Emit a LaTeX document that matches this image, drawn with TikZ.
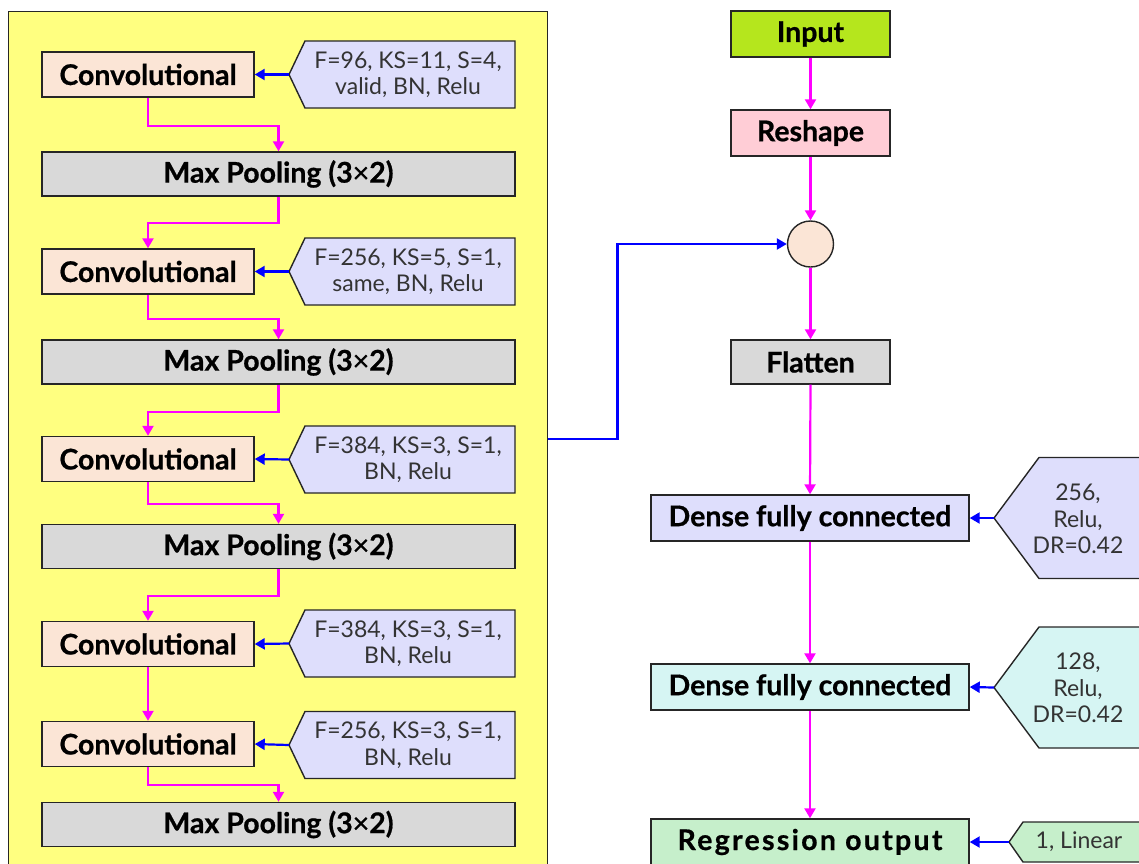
\documentclass[tikz,border=0pt]{standalone}
\usepackage{fontspec}
\setmainfont{Lato}
\usetikzlibrary{arrows.meta}

\definecolor{edge}{HTML}{262626}
\definecolor{cnnbg}{HTML}{FFFF80}
\definecolor{convfill}{HTML}{FBE5D6}
\definecolor{poolfill}{HTML}{D9D9D9}
\definecolor{parfill}{HTML}{DEDEFC}
\definecolor{cyanfill}{HTML}{D6F5F3}
\definecolor{greenfill}{HTML}{C6EFCB}
\definecolor{inputfill}{HTML}{B5E61D}
\definecolor{reshapefill}{HTML}{FFCDD6}
\definecolor{flow}{HTML}{FF00FF}
\definecolor{side}{HTML}{0000FF}

% light multiplication sign inside bold labels
\newcommand\bytimes{{\mdseries×}}

\newcommand\leftparam[3]{%
  \filldraw[parshape] (305,#2-33.5) -- (515,#2-33.5) -- (515,#2+33.5)
    -- (305,#2+33.5) -- (289,#2) -- cycle;
  \coordinate (#1) at (289,#2);
  \node[ptext] (#1text) at (408,#2) {#3};}

\begin{document}
\begin{tikzpicture}[x=1pt,y=-1pt,
  block/.style={draw=edge, line width=1.4pt, inner sep=0pt,
    font=\bfseries\addfontfeature{FakeBold=0.7}\fontsize{28.5}{32}\selectfont},
  convbox/.style={block, fill=convfill, minimum width=212pt, minimum height=45pt},
  poolbox/.style={block, fill=poolfill, minimum width=473pt, minimum height=44pt},
  colbox/.style={block, minimum width=159pt, minimum height=46pt},
  densebox/.style={block, minimum width=318pt, minimum height=46pt},
  parshape/.style={draw=edge, line width=1.4pt, fill=parfill},
  ptext/.style={align=center, inner sep=0pt, text=black!80,
    font=\fontsize{23}{26.5}\selectfont},
  flowline/.style={draw=flow, line width=2.2pt, -{Triangle[length=10pt,width=11pt]}},
  sideline/.style={draw=side, line width=2.2pt, -{Triangle[length=10pt,width=11pt]}}]

\useasboundingbox (0,0) rectangle (1139,863);
\begin{scope}
\clip (0,0) rectangle (1139,863);

% feature extractor panel
\node[draw=edge, line width=1.4pt, fill=cnnbg, minimum width=539pt,
  minimum height=854pt, anchor=north west, inner sep=0pt] (cnn) at (8,11) {};

% convolution / pooling stack
\node[convbox] (c1) at (148,74.5) {Convolutional};
\node[poolbox] (mp1) at (278.5,174) {Max Pooling (3\bytimes2)};
\node[convbox] (c2) at (148,271.5) {Convolutional};
\node[poolbox] (mp2) at (278.5,362) {Max Pooling (3\bytimes2)};
\node[convbox] (c3) at (148,459) {Convolutional};
\node[poolbox] (mp3) at (278.5,546.5) {Max Pooling (3\bytimes2)};
\node[convbox] (c4) at (148,644) {Convolutional};
\node[convbox] (c5) at (148,744) {Convolutional};
\node[poolbox] (mp4) at (278.5,824.5) {Max Pooling (3\bytimes2)};

% layer parameters
\leftparam{p1}{74.5}{F=96, KS=11, S=4,\\valid, BN, Relu}
\leftparam{p2}{271.5}{F=256, KS=5, S=1,\\same, BN, Relu}
\leftparam{p3}{459.5}{F=384, KS=3, S=1,\\BN, Relu}
\leftparam{p4}{643.5}{F=384, KS=3, S=1,\\BN, Relu}
\leftparam{p5}{745}{F=256, KS=3, S=1,\\BN, Relu}

\draw[sideline] (p1) -- (c1.east);
\draw[sideline] (p2) -- (c2.east);
\draw[sideline] (p3) -- (c3.east);
\draw[sideline] (p4) -- (c4.east);
\draw[sideline] (p5) -- (c5.east);

% data flow inside the panel
\draw[flowline] (c1.south) -- ++(0,28) -| (mp1.north);
\draw[flowline] (mp1.south) -- ++(0,26) -| (c2.north);
\draw[flowline] (c2.south) -- ++(0,24) -| (mp2.north);
\draw[flowline] (mp2.south) -- ++(0,27) -| (c3.north);
\draw[flowline] (c3.south) -- ++(0,22) -| (mp3.north);
\draw[flowline] (mp3.south) -- ++(0,27) -| (c4.north);
\draw[flowline] (c4.south) -- (c5.north);
\draw[flowline] (c5.south) -- ++(0,18) -| (mp4.north);

% main column
\node[colbox, fill=inputfill] (inp) at (810.5,34) {Input};
\node[colbox, fill=reshapefill] (resh) at (810.5,133) {Reshape};
\node[circle, draw=edge, line width=1.4pt, fill=convfill, minimum size=46pt,
  inner sep=0pt] (merge) at (810.5,244) {};
\node[colbox, fill=poolfill, minimum height=44pt] (flat) at (810.5,362) {Flatten};
\node[densebox, fill=parfill] (d1) at (810,518) {Dense fully connected};
\node[densebox, fill=cyanfill] (d2) at (810,687) {Dense fully connected};
\node[densebox, fill=greenfill] (reg) at (810,842)
  {\addfontfeature{LetterSpace=8}Regression output};

\draw[flowline] (inp.south) -- (resh.north);
\draw[flowline] (resh.south) -- (merge.north);
\draw[flowline] (merge.south) -- (flat.north);
\draw[flowline] (flat.south) -- (d1.north);
\draw[flowline] (d1.south) -- (d2.north);
\draw[flowline] (d2.south) -- (reg.north);

\draw[sideline] (cnn.east) -- ++(69,0) |- (merge.west);

% dense layer parameters
\filldraw[parshape] (1039,457.5) -- (1160,457.5) -- (1160,578.5) -- (1039,578.5)
  -- (994,518) -- cycle;
\coordinate (q1) at (994,518);
\node[ptext] (q1text) at (1078,519) {256,\\Relu,\\DR=0.42};

\filldraw[parshape, fill=cyanfill] (1039,627) -- (1160,627) -- (1160,748)
  -- (1039,748) -- (994,687.5) -- cycle;
\coordinate (q2) at (994,687.5);
\node[ptext] (q2text) at (1078,688) {128,\\Relu,\\DR=0.42};

\filldraw[parshape, fill=greenfill] (1023,822) -- (1160,822) -- (1160,862)
  -- (1023,862) -- (1009,842) -- cycle;
\coordinate (q3) at (1009,842);
\node[ptext] (q3text) at (1079,842) {1, Linear};

\draw[sideline] (q1) -- (d1.east);
\draw[sideline] (q2) -- (d2.east);
\draw[sideline] (q3) -- (reg.east);
\end{scope}
\end{tikzpicture}
\end{document}
